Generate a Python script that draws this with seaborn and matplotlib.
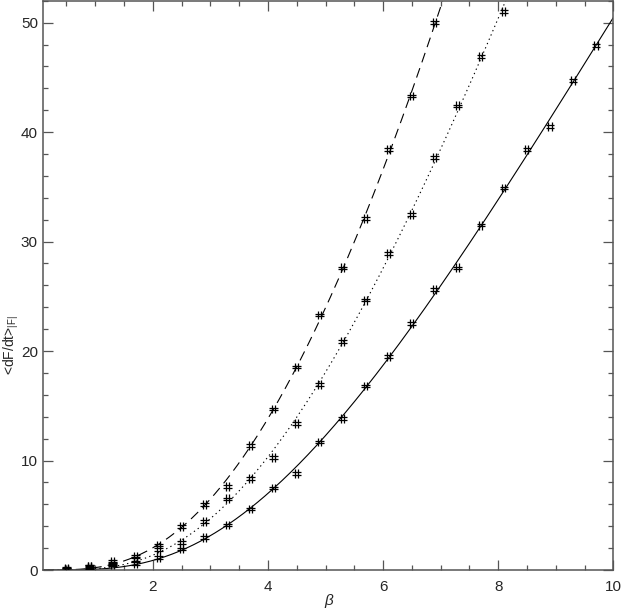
import numpy as np
import pandas as pd
import matplotlib
matplotlib.use('Agg')
import matplotlib.pyplot as plt
from matplotlib.path import Path
from matplotlib.ticker import MultipleLocator
import seaborn as sns

# beta values where the runs were sampled
beta = [0.5, 0.9, 1.3, 1.7, 2.1, 2.5, 2.9, 3.3, 3.7, 4.1, 4.5, 4.9,
        5.3, 5.7, 6.1, 6.5, 6.9, 7.3, 7.7, 8.1, 8.5, 8.9, 9.3, 9.7]

# <dF/dt> for the three cases (dashed, dotted, solid fits)
rate_dashed = [0.12, 0.35, 0.75, 1.28, 2.28, 3.96, 6.0, 7.65, 11.35, 14.7,
               18.55, 23.3, 27.6, 32.1, 38.4, 43.3, 50.0]
rate_dotted = [0.10, 0.30, 0.60, 0.98, 1.89, 2.53, 4.45, 6.5, 8.37, 10.3,
               13.4, 16.95, 20.9, 24.65, 28.9, 32.5, 37.7, 42.4, 46.9, 51.0]
rate_solid = [0.08, 0.22, 0.45, 0.61, 1.12, 1.92, 2.95, 4.11, 5.57, 7.5,
              8.83, 11.7, 13.85, 16.8, 19.5, 22.5, 25.6, 27.6, 31.5, 34.9,
              38.4, 40.5, 44.7, 47.9]

x_ticks = [2, 4, 6, 8, 10]
y_ticks = [0, 10, 20, 30, 40, 50]

sns.set_style('ticks')
plt.rcParams['font.family'] = ['Liberation Sans', 'DejaVu Sans']
plt.rcParams['mathtext.fontset'] = 'custom'
plt.rcParams['mathtext.rm'] = 'Liberation Sans'
plt.rcParams['mathtext.it'] = 'Liberation Sans:italic'

# "#"-shaped marker for the error-barred points
hash_marker = Path(
    [(-0.35, -1), (-0.35, 1), (0.35, -1), (0.35, 1),
     (-1, -0.3), (1, -0.3), (-1, 0.3), (1, 0.3)],
    [Path.MOVETO, Path.LINETO] * 4)

fig = plt.figure(figsize=(6.21, 6.08), dpi=100)
ax = fig.add_axes([0.070, 0.0625, 0.9176, 0.9363])

series = [
    (rate_dashed, {'dashes': (9, 5.5)}),
    (rate_dotted, {'dashes': (1.2, 3)}),
    (rate_solid, {'ls': '-'}),
]

xfit = np.linspace(0.1, 10, 400)
for rates, style in series:
    df = pd.DataFrame({'beta': beta[:len(rates)], 'rate': rates})
    # smooth fit, quadratic in log-log space, weighted so large values count
    coef = np.polyfit(np.log(df.beta), np.log(df.rate), 2, w=df.rate)
    fit = pd.DataFrame({'beta': xfit, 'rate': np.exp(np.polyval(coef, np.log(xfit)))})
    sns.lineplot(data=fit, x='beta', y='rate', color='black', lw=0.8, ax=ax, **style)
    sns.scatterplot(data=df, x='beta', y='rate', marker=hash_marker, s=40,
                    color='black', edgecolor='black', facecolor='none',
                    linewidth=0.9, ax=ax, zorder=3)

ax.set_xlim(0.1, 10)
ax.set_ylim(0, 52)
ax.set_xticks(x_ticks)
ax.set_yticks(y_ticks)
ax.xaxis.set_minor_locator(MultipleLocator(0.5))
ax.yaxis.set_minor_locator(MultipleLocator(2))
ax.tick_params(which='both', direction='in', top=True, right=True,
               color='#555555', width=0.9, labelsize=11)
ax.tick_params(which='major', length=7)
ax.tick_params(which='minor', length=3.3)
ax.tick_params(axis='x', pad=7)
ax.tick_params(axis='y', pad=4)
for sp in ax.spines.values():
    sp.set_color('#555555')
    sp.set_linewidth(1.1)

ax.set_xlabel('β', fontsize=11, fontstyle='italic')
ax.xaxis.set_label_coords(0.5, -0.043)
ax.set_ylabel(r'<dF/dt>$_{\rm |F|}$', fontsize=10)
ax.yaxis.set_label_coords(-0.0386, 0.395)

fig.savefig('out.png', dpi=100, facecolor='white')
